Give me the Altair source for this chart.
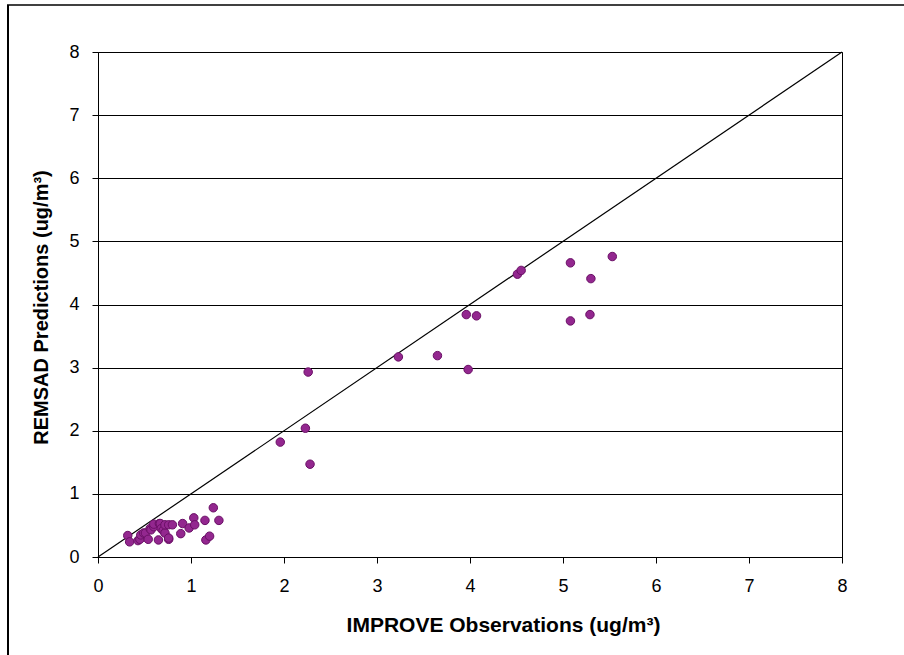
import altair as alt
import pandas as pd

# Paired observation / prediction values (ug/m3)
obs = [
    0.32, 0.34, 0.43, 0.45, 0.46, 0.49, 0.51, 0.54, 0.56, 0.57, 0.60, 0.60,
    0.65, 0.66, 0.67, 0.68, 0.70, 0.72, 0.72, 0.76, 0.76, 0.76, 0.80, 0.89,
    0.91, 0.98, 1.03, 1.04, 1.15, 1.16, 1.20, 1.24, 1.30,
    1.96, 2.23, 2.26, 2.28,
    3.23, 3.65, 3.96, 3.98, 4.07, 4.51, 4.55,
    5.08, 5.08, 5.29, 5.30, 5.53,
]
pred = [
    0.34, 0.24, 0.26, 0.28, 0.35, 0.38, 0.38, 0.28, 0.45, 0.43, 0.48, 0.52,
    0.27, 0.53, 0.53, 0.45, 0.42, 0.38, 0.51, 0.28, 0.30, 0.51, 0.51, 0.37,
    0.53, 0.46, 0.62, 0.51, 0.58, 0.27, 0.33, 0.78, 0.58,
    1.82, 2.04, 2.93, 1.47,
    3.17, 3.19, 3.84, 2.97, 3.82, 4.48, 4.54,
    4.66, 3.74, 3.84, 4.41, 4.76,
]

# 1:1 reference line
line_x = [0, 8]
line_y = [0, 8]

axis_ticks = list(range(0, 9))

points_df = pd.DataFrame({"obs": obs, "pred": pred})
line_df = pd.DataFrame({"obs": line_x, "pred": line_y})

FONT = "Liberation Sans"

x_enc = alt.X(
    "obs:Q",
    scale=alt.Scale(domain=[0, 8], nice=False, zero=True),
    axis=alt.Axis(
        values=axis_ticks,
        format="d",
        title="IMPROVE Observations (ug/m³)",
        grid=False,
        tickSize=6,
        labelFlush=False,
        labelPadding=14,
        titlePadding=19,
        titleFontSize=21,
        titleX=405,
    ),
)
y_enc = alt.Y(
    "pred:Q",
    scale=alt.Scale(domain=[0, 8], nice=False, zero=True),
    axis=alt.Axis(
        values=axis_ticks,
        format="d",
        title="REMSAD Predictions (ug/m³)",
        grid=True,
        tickSize=6,
        labelFlush=False,
        labelPadding=13,
        titlePadding=17,
        titleY=255,
    ),
)

diag = alt.Chart(line_df).mark_line(color="black", strokeWidth=1.2).encode(
    x=x_enc, y=y_enc
)

points = alt.Chart(points_df).mark_point(
    shape="circle",
    filled=True,
    size=72,
    fill="#93278F",
    stroke="#6A0F66",
    strokeWidth=1,
    opacity=1,
).encode(x="obs:Q", y="pred:Q")

# Outer chart-area frame (left and top edges)
one = alt.Data(values=[{"k": 0}])
frame_left = alt.Chart(one).mark_rule(color="black", strokeWidth=2).encode(
    x=alt.value(-90), y=alt.value(-47), y2=alt.value(620)
)
frame_top = alt.Chart(one).mark_rule(color="black", strokeWidth=1.5).encode(
    x=alt.value(-91), x2=alt.value(900), y=alt.value(-47)
)

chart = (
    alt.layer(diag, points, frame_left, frame_top)
    .properties(
        width=744,
        height=505,
        autosize=alt.AutoSizeParams(type="none"),
        padding={"left": 98, "top": 52, "right": 62, "bottom": 98},
        background="white",
    )
    .configure_view(stroke="black", strokeWidth=1)
    .configure_axis(
        domainColor="black",
        tickColor="black",
        gridColor="black",
        gridWidth=1,
        labelFont=FONT,
        labelFontSize=18,
        labelColor="black",
        titleFont=FONT,
        titleFontSize=20,
        titleFontWeight="bold",
        titleColor="black",
    )
)

chart.save("out.html", embed_options={"renderer": "svg", "actions": False})
